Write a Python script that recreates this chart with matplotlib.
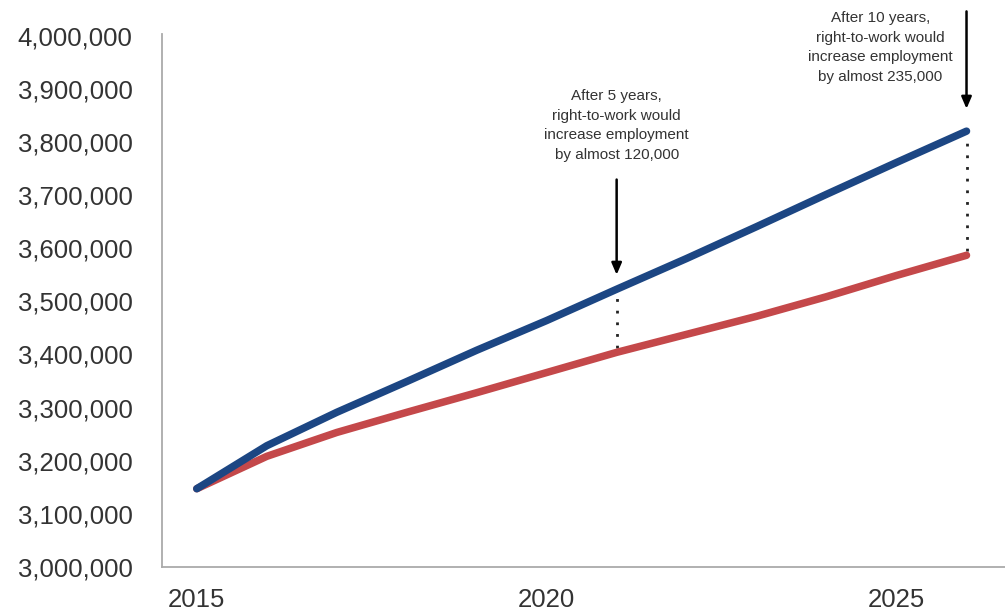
import matplotlib
matplotlib.use('Agg')
import matplotlib.pyplot as plt
from matplotlib.ticker import FuncFormatter

## data
years = [2015, 2016, 2017, 2018, 2019, 2020, 2021, 2022, 2023, 2024, 2025, 2026]
rtw_jobs = [3147000, 3228000, 3291000, 3349000, 3408000, 3464000,
            3523000, 3581000, 3641000, 3702000, 3762000, 3821000]
base_jobs = [3147000, 3208000, 3253000, 3291000, 3328000, 3366000,
             3404000, 3438000, 3472000, 3509000, 3549000, 3587000]
xticks = [2015, 2020, 2025]
yticks = [3000000, 3100000, 3200000, 3300000, 3400000, 3500000,
          3600000, 3700000, 3800000, 3900000, 4000000]
notes = ['After 5 years,\nright-to-work would\nincrease employment\nby almost 120,000',
         'After 10 years,\nright-to-work would\nincrease employment\nby almost 235,000']
note_years = [2021, 2026]

blue = '#1c4683'
red = '#c4484a'
txtcol = '#333333'
narrow = ['Liberation Sans Narrow', 'Liberation Sans', 'DejaVu Sans']

fig = plt.figure(figsize=(10.05, 6.1), dpi=100)
ax = fig.add_axes([0.161, 0.071, 0.839, 0.874])

ax.plot(years, base_jobs, color=red, lw=5.4, solid_capstyle='round', zorder=3)
ax.plot(years, rtw_jobs, color=blue, lw=5.4, solid_capstyle='round', zorder=4)

## dotted gaps and arrows
for yr in note_years:
    i = years.index(yr)
    top, bot = rtw_jobs[i], base_jobs[i]
    ax.plot([yr, yr], [bot + 8000, top - 8000], color='#222222', lw=2,
            linestyle=(0, (1, 3.2)), zorder=2)

ax.annotate('', xy=(2021, 3545000), xytext=(2021, 3735000),
            arrowprops=dict(arrowstyle='-|>,head_length=0.7,head_width=0.3',
                            color='black', lw=1.8))
ax.annotate('', xy=(2026, 3858000), xytext=(2026, 4052000),
            arrowprops=dict(arrowstyle='-|>,head_length=0.7,head_width=0.3',
                            color='black', lw=1.8), annotation_clip=False)

ax.text(2021, 3832000, notes[0], ha='center', va='center', fontsize=11,
        linespacing=1.5, color=txtcol, family=narrow)
ax.text(2024.77, 3979000, notes[1], ha='center', va='center', fontsize=11,
        linespacing=1.5, color=txtcol, family=narrow, clip_on=False)

ax.set_xlim(2014.5, 2026.55)
ax.set_ylim(3000000, 4005000)
ax.set_xticks(xticks)
ax.set_yticks(yticks)
ax.yaxis.set_major_formatter(FuncFormatter(lambda v, p: f'{int(v):,}'))

ax.tick_params(axis='both', length=0, labelsize=18.5, labelcolor=txtcol)
ax.tick_params(axis='y', pad=21)
ax.tick_params(axis='x', pad=15)
for lab in ax.get_xticklabels() + ax.get_yticklabels():
    lab.set_family(['Liberation Sans', 'DejaVu Sans'])

for side in ['top', 'right']:
    ax.spines[side].set_visible(False)
for side in ['left', 'bottom']:
    ax.spines[side].set_color('#aaaaaa')
    ax.spines[side].set_linewidth(1.3)

fig.savefig('out.png', dpi=100)
